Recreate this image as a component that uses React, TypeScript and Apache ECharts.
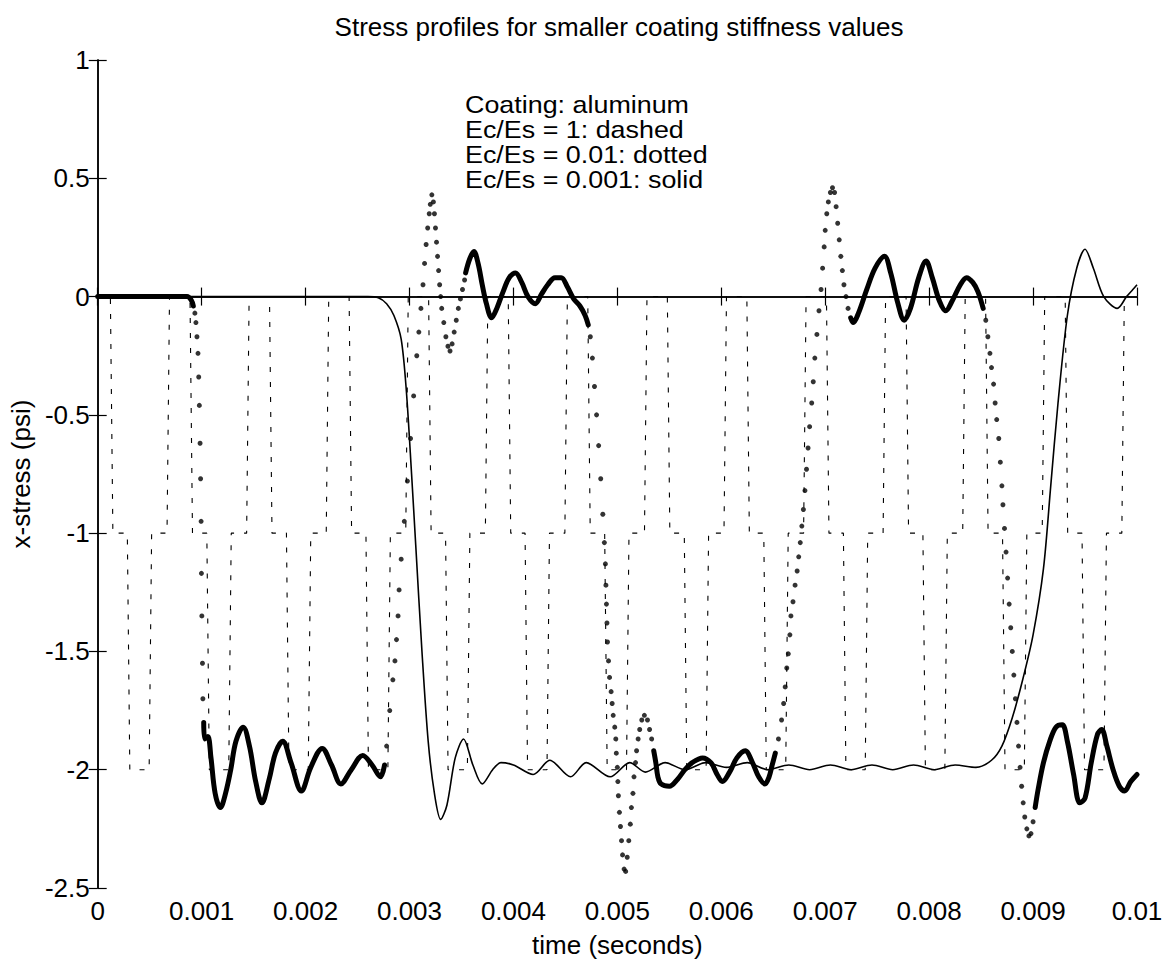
import React, { useEffect, useRef } from "react";
import * as echarts from "echarts";

// ---------- data (time in milliseconds, stress in psi) ----------
const xTickLabels = ["0", "0.001", "0.002", "0.003", "0.004", "0.005", "0.006", "0.007", "0.008", "0.009", "0.01"];

// Ec/Es = 1 (dashed): times (ms) of the steep transitions and the level held after each one
const dashTimesMs = [
  0.134, 0.297, 0.507, 0.679, 0.9, 1.062, 1.273, 1.445, 1.665, 1.828, 2.038, 2.211, 2.431, 2.593,
  2.804, 2.976, 3.196, 3.359, 3.569, 3.742, 3.962, 4.124, 4.335, 4.507, 4.727, 4.89, 5.1, 5.273,
  5.493, 5.656, 5.866, 6.038, 6.258, 6.421, 6.632, 6.804, 7.024, 7.187, 7.397, 7.569, 7.79, 7.952,
  8.163, 8.335, 8.555, 8.718, 8.928, 9.1, 9.321, 9.483, 9.694, 9.866,
];
const dashLevels = [
  0, -1, -2, -1, 0, -1, -2, -1, 0, -1, -2, -1, 0, -1, -2, -1, 0, -1, -2, -1, 0, -1, -2, -1, 0, -1,
  -2, -1, 0, -1, -2, -1, 0, -1, -2, -1, 0, -1, -2, -1, 0, -1, -2, -1, 0, -1, -2, -1, 0, -1, -2, -1, 0,
];

// Ec/Es = 0.001 (solid)
const solidPoints: [number, number][] = [
  [0, 0], [1.5, 0], [2.6, 0], [2.7, -0.005], [2.78, -0.03], [2.85, -0.08], [2.92, -0.18], [2.97, -0.4],
  [3.02, -0.75], [3.06, -1.05], [3.12, -1.5], [3.18, -1.88], [3.24, -2.1], [3.3, -2.21], [3.36, -2.15],
  [3.44, -1.95], [3.52, -1.87], [3.61, -1.98], [3.7, -2.06], [3.8, -2.0], [3.88, -1.97], [4.0, -1.98],
  [4.19, -2.02], [4.35, -1.96], [4.55, -2.03], [4.7, -1.97], [4.93, -2.03], [5.12, -1.97], [5.27, -2.01],
  [5.46, -1.97], [5.65, -2.0], [5.85, -1.97], [6.05, -1.99], [6.25, -1.97], [6.45, -2.0], [6.65, -1.98],
  [6.85, -2.0], [7.05, -1.98], [7.25, -2.0], [7.45, -1.98], [7.65, -2.0], [7.85, -1.98], [8.05, -2.0],
  [8.25, -1.98], [8.45, -1.99], [8.6, -1.96], [8.7, -1.9], [8.8, -1.78], [8.9, -1.62], [9.0, -1.43],
  [9.1, -1.15], [9.17, -0.8], [9.24, -0.45], [9.33, -0.08], [9.42, 0.12], [9.5, 0.2], [9.58, 0.12],
  [9.68, 0.0], [9.81, -0.05], [9.9, 0.0], [9.96, 0.03], [10.0, 0.05],
];

// Ec/Es = 0.01 (dotted): slowly varying stretches, where the dots merge into a thick band
const dottedBand1: [number, number][] = [
  [0, 0], [0.3, 0], [0.6, 0], [0.86, 0], [0.9, -0.015], [0.92, -0.04],
];
const dottedBand2: [number, number][] = [
  [1.02, -1.8], [1.03, -1.87], [1.06, -1.86], [1.09, -1.95], [1.13, -2.1], [1.18, -2.16], [1.23, -2.1],
  [1.28, -2.0], [1.33, -1.88], [1.4, -1.82], [1.46, -1.9], [1.52, -2.05], [1.58, -2.14], [1.65, -2.04],
  [1.71, -1.93], [1.78, -1.88], [1.86, -1.97], [1.96, -2.09], [2.05, -1.99], [2.16, -1.91], [2.25, -1.98],
  [2.34, -2.06], [2.44, -2.0], [2.55, -1.94], [2.64, -1.98], [2.72, -2.03], [2.76, -1.98],
];
const dottedBand3: [number, number][] = [
  [3.54, 0.1], [3.58, 0.16], [3.62, 0.19], [3.66, 0.14], [3.7, 0.05], [3.74, -0.03], [3.79, -0.09],
  [3.84, -0.05], [3.9, 0.02], [3.96, 0.08], [4.02, 0.1], [4.08, 0.06], [4.14, 0.0], [4.21, -0.03],
  [4.27, 0.01], [4.33, 0.05], [4.4, 0.08], [4.46, 0.08], [4.52, 0.04], [4.58, -0.01], [4.64, -0.04],
  [4.69, -0.08], [4.72, -0.12],
];
const dottedBand4: [number, number][] = [
  [5.35, -1.92], [5.37, -1.97], [5.39, -2.03], [5.42, -2.06], [5.5, -2.07], [5.58, -2.04], [5.65, -2.0],
  [5.72, -1.97], [5.82, -1.95], [5.9, -1.97], [5.96, -2.02], [6.01, -2.05], [6.08, -2.01], [6.15, -1.95],
  [6.23, -1.92], [6.3, -1.97], [6.36, -2.03], [6.42, -2.06], [6.46, -2.03], [6.49, -1.98], [6.52, -1.93],
];
const dottedBand5: [number, number][] = [
  [7.245, -0.09], [7.27, -0.11], [7.32, -0.07], [7.4, 0.03], [7.48, 0.12], [7.57, 0.17], [7.63, 0.1],
  [7.7, -0.03], [7.76, -0.1], [7.82, -0.05], [7.9, 0.08], [7.97, 0.15], [8.03, 0.08], [8.1, -0.02],
  [8.16, -0.06], [8.22, -0.02], [8.3, 0.05], [8.36, 0.08], [8.42, 0.06], [8.47, 0.02], [8.52, -0.05],
];
const dottedBand6: [number, number][] = [
  [9.02, -2.16], [9.05, -2.08], [9.1, -1.97], [9.16, -1.88], [9.22, -1.82], [9.28, -1.81], [9.33, -1.88],
  [9.39, -2.02], [9.45, -2.14], [9.5, -2.12], [9.56, -1.97], [9.62, -1.85], [9.66, -1.83], [9.71, -1.9],
  [9.77, -2.0], [9.83, -2.07], [9.88, -2.09], [9.94, -2.05], [10.0, -2.02],
];
// Ec/Es = 0.01 (dotted): fast stretches, where the individual dots are visible
const dottedSteep: [number, number][] = [
  [0.935, -0.07], [0.945, -0.11], [0.955, -0.17], [0.965, -0.24], [0.972, -0.34], [0.978, -0.46],
  [0.985, -0.62], [0.99, -0.77], [0.995, -0.95], [0.998, -1.17], [1.002, -1.35], [1.008, -1.55],
  [1.012, -1.7],
  [2.78, -1.9], [2.81, -1.75], [2.84, -1.62], [2.86, -1.54], [2.875, -1.45], [2.89, -1.35], [2.9, -1.24],
  [2.92, -1.11], [2.95, -0.95], [2.98, -0.78], [3.01, -0.6], [3.04, -0.42], [3.07, -0.25], [3.09, -0.15],
  [3.11, -0.05], [3.13, 0.05], [3.145, 0.14], [3.16, 0.22], [3.175, 0.29], [3.19, 0.35], [3.2, 0.39],
  [3.215, 0.43], [3.23, 0.4], [3.24, 0.35], [3.25, 0.29], [3.26, 0.23], [3.27, 0.17], [3.28, 0.11],
  [3.29, 0.05], [3.3, 0.0], [3.31, -0.05], [3.33, -0.11], [3.35, -0.17], [3.37, -0.21], [3.39, -0.23],
  [3.41, -0.2], [3.43, -0.15], [3.45, -0.1], [3.47, -0.05], [3.49, -0.01], [3.51, 0.03], [3.53, 0.07],
  [4.74, -0.17], [4.76, -0.26], [4.78, -0.38], [4.8, -0.5], [4.82, -0.63], [4.84, -0.77], [4.86, -0.92],
  [4.875, -1.04], [4.885, -1.13], [4.89, -1.22], [4.895, -1.3], [4.9, -1.38], [4.905, -1.46],
  [4.915, -1.54], [4.925, -1.61], [4.94, -1.67], [4.95, -1.72], [4.96, -1.77], [4.975, -1.82],
  [4.985, -1.87], [4.99, -1.93], [5.0, -1.99], [5.005, -2.05], [5.01, -2.11], [5.02, -2.18],
  [5.03, -2.24], [5.04, -2.3], [5.05, -2.36], [5.065, -2.42], [5.08, -2.43], [5.095, -2.37],
  [5.11, -2.3], [5.125, -2.23], [5.135, -2.16], [5.15, -2.1], [5.16, -2.03], [5.175, -1.97],
  [5.185, -1.92], [5.2, -1.87], [5.215, -1.83], [5.235, -1.79], [5.26, -1.77], [5.29, -1.79],
  [5.31, -1.83], [5.33, -1.87],
  [6.55, -1.87], [6.58, -1.79], [6.6, -1.72], [6.615, -1.65], [6.63, -1.57], [6.645, -1.51], [6.66, -1.43],
  [6.67, -1.35], [6.69, -1.29], [6.71, -1.22], [6.73, -1.16], [6.745, -1.1], [6.76, -1.04], [6.775, -0.97],
  [6.79, -0.9], [6.805, -0.82], [6.82, -0.73], [6.835, -0.64], [6.85, -0.55], [6.87, -0.45], [6.885, -0.36],
  [6.9, -0.26], [6.92, -0.16], [6.94, -0.06], [6.96, 0.03], [6.975, 0.12], [6.99, 0.21], [7.0, 0.28],
  [7.015, 0.35], [7.03, 0.4], [7.05, 0.44], [7.07, 0.46], [7.09, 0.44], [7.105, 0.38], [7.12, 0.31],
  [7.135, 0.24], [7.15, 0.17], [7.165, 0.11], [7.18, 0.05], [7.2, 0.0], [7.22, -0.05],
  [8.545, -0.1], [8.565, -0.17], [8.585, -0.24], [8.6, -0.3], [8.62, -0.37], [8.635, -0.45], [8.65, -0.52],
  [8.67, -0.6], [8.685, -0.7], [8.7, -0.8], [8.71, -0.88], [8.725, -0.98], [8.74, -1.08], [8.755, -1.19],
  [8.77, -1.3], [8.785, -1.4], [8.8, -1.5], [8.815, -1.6], [8.83, -1.7], [8.845, -1.8], [8.86, -1.9],
  [8.875, -1.99], [8.89, -2.07], [8.905, -2.14], [8.92, -2.2], [8.94, -2.25], [8.96, -2.28], [8.98, -2.27],
  [9.0, -2.22],
];

const legendLines = [
  "Coating: aluminum",
  "Ec/Es = 1: dashed",
  "Ec/Es = 0.01: dotted",
  "Ec/Es = 0.001: solid",
];

// ---------- helpers ----------
const FONT = '"Liberation Sans", Arial, Helvetica, sans-serif';
const toSec = (pts: [number, number][]) => pts.map(([t, v]) => [t / 1000, v]);

function dashedSteps(): number[][] {
  const half = 0.012; // half-width of each steep transition, ms
  const out: number[][] = [[0, dashLevels[0]]];
  dashTimesMs.forEach((t, i) => {
    out.push([(t - half) / 1000, dashLevels[i]]);
    out.push([(t + half) / 1000, dashLevels[i + 1]]);
  });
  out.push([0.01, dashLevels[dashLevels.length - 1]]);
  return out;
}

export default function App() {
  const ref = useRef<HTMLDivElement>(null);

  useEffect(() => {
    if (!ref.current) return;
    const chart = echarts.init(ref.current, null, { renderer: "svg" });

    const bandSeries = [dottedBand1, dottedBand2, dottedBand3, dottedBand4, dottedBand5, dottedBand6].map(
      (seg) => ({
        name: "Ec/Es = 0.01",
        type: "line",
        data: toSec(seg),
        smooth: 0.35,
        showSymbol: false,
        lineStyle: { color: "#000", width: 5, cap: "round", join: "round" },
        z: 4,
      })
    );

    const axisCommon = {
      axisLine: { show: true, lineStyle: { color: "#000", width: 1.5 } },
      axisTick: { show: true, inside: true, length: 9, lineStyle: { color: "#000", width: 1.2 } },
      splitLine: { show: false },
    };

    chart.setOption({
      animation: false,
      backgroundColor: "#fff",
      title: {
        text: "Stress profiles for smaller coating stiffness values",
        left: 614,
        top: 9,
        textAlign: "center",
        textStyle: { fontFamily: FONT, fontSize: 26, fontWeight: "normal", color: "#000" },
      },
      grid: { left: 95, right: 30, top: 60, bottom: 82 },
      xAxis: [
        {
          type: "value",
          min: 0,
          max: 0.01,
          interval: 0.001,
          name: "time (seconds)",
          nameLocation: "middle",
          nameGap: 44,
          nameTextStyle: { fontFamily: FONT, fontSize: 26, color: "#000" },
          axisLabel: {
            fontFamily: FONT,
            fontSize: 26,
            color: "#000",
            margin: 10,
            formatter: (v: number) => xTickLabels[Math.round(v * 1000)] ?? "",
          },
          ...axisCommon,
        },
        {
          type: "value",
          position: "top",
          min: 0,
          max: 0.01,
          interval: 0.001,
          axisLabel: { show: false },
          ...axisCommon,
        },
      ],
      yAxis: [
        {
          type: "value",
          min: -2.5,
          max: 1,
          interval: 0.5,
          name: "x-stress (psi)",
          nameLocation: "middle",
          nameGap: 58,
          nameTextStyle: { fontFamily: FONT, fontSize: 26, color: "#000" },
          axisLabel: { fontFamily: FONT, fontSize: 26, color: "#000", margin: 8 },
          ...axisCommon,
        },
        {
          type: "value",
          position: "right",
          min: -2.5,
          max: 1,
          interval: 0.5,
          axisLabel: { show: false },
          ...axisCommon,
        },
      ],
      graphic: legendLines.map((txt, i) => ({
        type: "text",
        left: 465,
        top: 93 + i * 25,
        scaleX: 1.12,
        style: { text: txt, font: `24px ${FONT}`, fill: "#000" },
        z: 10,
      })),
      series: [
        {
          name: "Ec/Es = 1",
          type: "line",
          data: dashedSteps(),
          showSymbol: false,
          lineStyle: { color: "#000", width: 1.1, type: [5, 10] },
          z: 2,
        },
        {
          name: "Ec/Es = 0.001",
          type: "line",
          data: toSec(solidPoints),
          smooth: 0.3,
          showSymbol: false,
          lineStyle: { color: "#000", width: 1.6 },
          z: 3,
        },
        ...bandSeries,
        {
          name: "Ec/Es = 0.01",
          type: "scatter",
          data: toSec(dottedSteep),
          symbol: "circle",
          symbolSize: 5,
          itemStyle: { color: "#000" },
          z: 5,
        },
      ],
    });

    return () => chart.dispose();
  }, []);

  return (
    <div
      ref={ref}
      style={{ position: "fixed", left: 0, top: 0, width: 1167, height: 970, background: "#fff" }}
    />
  );
}
